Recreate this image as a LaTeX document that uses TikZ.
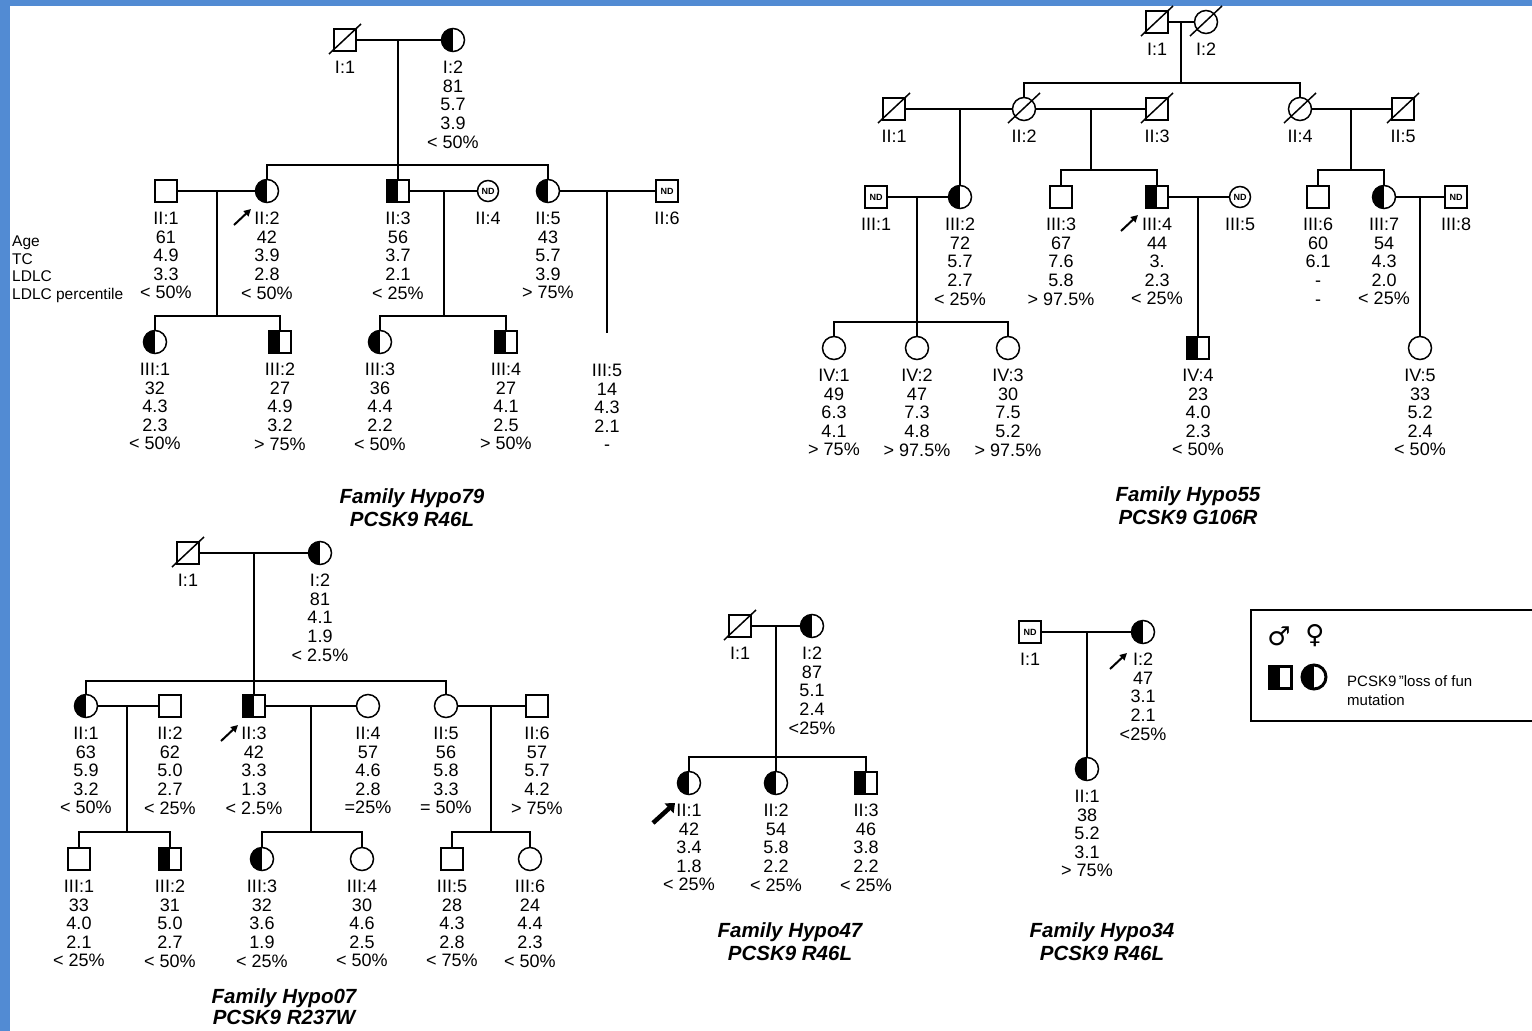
\documentclass[tikz,border=0pt]{standalone}
\usepackage{fontspec}
\setmainfont{Liberation Sans}
\newfontfamily\dejavu{DejaVu Sans}
\usetikzlibrary{arrows.meta}
\definecolor{bluebg}{RGB}{82,139,211}
\newcommand\deadmark[1]{\draw[ln] ([shift={(-16pt,-14pt)}]#1.center) -- ([shift={(16pt,16pt)}]#1.center);}
\newcommand\plab[2]{\node[info] (#1L) at ([yshift=-21pt]#1.center) {#2};}
\begin{document}
\begin{tikzpicture}[x=1pt,y=-1pt,
  ln/.style={line width=1.5pt},
  sym/.style={draw, line width=1.5pt, inner sep=0pt, outer sep=0pt},
  ma/.style={sym, rectangle, minimum size=22pt},
  fe/.style={sym, circle, minimum size=23pt},
  half/.style={path picture={\fill[black] (path picture bounding box.south west) rectangle (path picture bounding box.north);}},
  nd/.style={font=\fontsize{9}{9}\selectfont\bfseries},
  ndc/.style={fe, minimum size=21pt, nd},
  nds/.style={ma, nd},
  info/.style={font=\fontsize{18}{18.6}\selectfont, align=center, inner sep=0pt, anchor=north},
  ttl/.style={font=\fontsize{20.5}{23}\selectfont\bfseries\itshape, align=center, inner sep=0pt, anchor=north},
  side/.style={font=\fontsize{15.5}{17.4}\selectfont, align=left, inner sep=0pt, anchor=north west},
  prob/.style={line width=2pt, -{Triangle[length=7pt,width=7pt]}},
]
\useasboundingbox (0,0) rectangle (1532,1031);
\fill[bluebg] (0,0) rectangle (1532,1031);
\fill[white] (10,6) rectangle (1532,1031);

%% ================= Family Hypo79 =================
\node[ma] (A-I1) at (345,40) {}; \deadmark{A-I1}
\node[fe,half] (A-I2) at (453,40) {};
\coordinate (A-m1) at (398,40);
\coordinate (A-s1) at (398,165);
\node[ma] (A-II1) at (166,191) {};
\node[fe,half] (A-II2) at (267,191) {};
\node[ma,half] (A-II3) at (398,191) {};
\node[ndc] (A-II4) at (488,191) {ND};
\node[fe,half] (A-II5) at (548,191) {};
\node[nds] (A-II6) at (667,191) {ND};
\node[fe,half] (A-III1) at (155,342) {};
\node[ma,half] (A-III2) at (280,342) {};
\node[fe,half] (A-III3) at (380,342) {};
\node[ma,half] (A-III4) at (506,342) {};
\coordinate (A-III5) at (607,333);
\coordinate (A-m2) at (217,191); \coordinate (A-s2) at (217,316);
\coordinate (A-m3) at (444,191); \coordinate (A-s3) at (444,316);
\coordinate (A-m4) at (607,191);
\draw[ln] (A-I1) -- (A-I2);
\draw[ln] (A-m1) -- (A-II3);
\draw[ln] (A-II2) |- (A-s1) -| (A-II5);
\draw[ln] (A-II1) -- (A-II2);
\draw[ln] (A-II3) -- (A-II4);
\draw[ln] (A-II5) -- (A-II6);
\draw[ln] (A-m2) -- (A-s2);
\draw[ln] (A-III1) |- (A-s2) -| (A-III2);
\draw[ln] (A-m3) -- (A-s3);
\draw[ln] (A-III3) |- (A-s3) -| (A-III4);
\draw[ln] (A-m4) -- (A-III5);
\plab{A-I1}{I:1}
\plab{A-I2}{I:2\\81\\5.7\\3.9\\< 50\%}
\plab{A-II1}{II:1\\61\\4.9\\3.3\\< 50\%}
\plab{A-II2}{II:2\\42\\3.9\\2.8\\< 50\%}
\plab{A-II3}{II:3\\56\\3.7\\2.1\\< 25\%}
\plab{A-II4}{II:4}
\plab{A-II5}{II:5\\43\\5.7\\3.9\\> 75\%}
\plab{A-II6}{II:6}
\plab{A-III1}{III:1\\32\\4.3\\2.3\\< 50\%}
\plab{A-III2}{III:2\\27\\4.9\\3.2\\> 75\%}
\plab{A-III3}{III:3\\36\\4.4\\2.2\\< 50\%}
\plab{A-III4}{III:4\\27\\4.1\\2.5\\> 50\%}
\node[info] (A-III5L) at (607,364) {III:5\\14\\4.3\\2.1\\-};
\coordinate (A-a1) at (234,225); \coordinate (A-a2) at (251,209);
\draw[prob] (A-a1) -- (A-a2);
\node[side] (A-key) at (12,236) {Age\\TC\\LDLC\\LDLC percentile};
\node[ttl] (A-t) at (412,488) {Family Hypo79\\PCSK9 R46L};

%% ================= Family Hypo55 =================
\node[ma] (B-I1) at (1157,22) {}; \deadmark{B-I1}
\node[fe] (B-I2) at (1206,22) {}; \deadmark{B-I2}
\coordinate (B-m1) at (1181,22); \coordinate (B-s1) at (1181,83);
\node[ma] (B-II1) at (894,109) {}; \deadmark{B-II1}
\node[fe] (B-II2) at (1024,109) {}; \deadmark{B-II2}
\node[ma] (B-II3) at (1157,109) {}; \deadmark{B-II3}
\node[fe] (B-II4) at (1300,109) {}; \deadmark{B-II4}
\node[ma] (B-II5) at (1403,109) {}; \deadmark{B-II5}
\node[nds] (B-III1) at (876,197) {ND};
\node[fe,half] (B-III2) at (960,197) {};
\node[ma] (B-III3) at (1061,197) {};
\node[ma,half] (B-III4) at (1157,197) {};
\node[ndc] (B-III5) at (1240,197) {ND};
\node[ma] (B-III6) at (1318,197) {};
\node[fe,half] (B-III7) at (1384,197) {};
\node[nds] (B-III8) at (1456,197) {ND};
\node[fe] (B-IV1) at (834,348) {};
\node[fe] (B-IV2) at (917,348) {};
\node[fe] (B-IV3) at (1008,348) {};
\node[ma,half] (B-IV4) at (1198,348) {};
\node[fe] (B-IV5) at (1420,348) {};
\coordinate (B-m2) at (960,109);
\coordinate (B-m3) at (1091,109); \coordinate (B-s3) at (1091,170);
\coordinate (B-m4) at (1351,109); \coordinate (B-s4) at (1351,170);
\coordinate (B-m5) at (917,197); \coordinate (B-s5) at (917,322);
\coordinate (B-m6) at (1198,197);
\coordinate (B-m7) at (1420,197);
\draw[ln] (B-I1) -- (B-I2);
\draw[ln] (B-m1) -- (B-s1);
\draw[ln] (B-II2) |- (B-s1) -| (B-II4);
\draw[ln] (B-II1) -- (B-II2);
\draw[ln] (B-II2) -- (B-II3);
\draw[ln] (B-II4) -- (B-II5);
\draw[ln] (B-m2) -- (B-III2);
\draw[ln] (B-m3) -- (B-s3);
\draw[ln] (B-III3) |- (B-s3) -| (B-III4);
\draw[ln] (B-m4) -- (B-s4);
\draw[ln] (B-III6) |- (B-s4) -| (B-III7);
\draw[ln] (B-III1) -- (B-III2);
\draw[ln] (B-III4) -- (B-III5);
\draw[ln] (B-III7) -- (B-III8);
\draw[ln] (B-m5) -- (B-IV2);
\draw[ln] (B-IV1) |- (B-s5) -| (B-IV3);
\draw[ln] (B-m6) -- (B-IV4);
\draw[ln] (B-m7) -- (B-IV5);
\plab{B-I1}{I:1}
\plab{B-I2}{I:2}
\plab{B-II1}{II:1}
\plab{B-II2}{II:2}
\plab{B-II3}{II:3}
\plab{B-II4}{II:4}
\plab{B-II5}{II:5}
\plab{B-III1}{III:1}
\plab{B-III2}{III:2\\72\\5.7\\2.7\\< 25\%}
\plab{B-III3}{III:3\\67\\7.6\\5.8\\> 97.5\%}
\plab{B-III4}{III:4\\44\\3.\\2.3\\< 25\%}
\plab{B-III5}{III:5}
\plab{B-III6}{III:6\\60\\6.1\\-\\-}
\plab{B-III7}{III:7\\54\\4.3\\2.0\\< 25\%}
\plab{B-III8}{III:8}
\plab{B-IV1}{IV:1\\49\\6.3\\4.1\\> 75\%}
\plab{B-IV2}{IV:2\\47\\7.3\\4.8\\> 97.5\%}
\plab{B-IV3}{IV:3\\30\\7.5\\5.2\\> 97.5\%}
\plab{B-IV4}{IV:4\\23\\4.0\\2.3\\< 50\%}
\plab{B-IV5}{IV:5\\33\\5.2\\2.4\\< 50\%}
\coordinate (B-a1) at (1121,231); \coordinate (B-a2) at (1138,215);
\draw[prob] (B-a1) -- (B-a2);
\node[ttl] (B-t) at (1188,486) {Family Hypo55\\PCSK9 G106R};

%% ================= Family Hypo07 =================
\node[ma] (C-I1) at (188,553) {}; \deadmark{C-I1}
\node[fe,half] (C-I2) at (320,553) {};
\coordinate (C-m1) at (254,553); \coordinate (C-s1) at (254,681);
\node[fe,half] (C-II1) at (86,706) {};
\node[ma] (C-II2) at (170,706) {};
\node[ma,half] (C-II3) at (254,706) {};
\node[fe] (C-II4) at (368,706) {};
\node[fe] (C-II5) at (446,706) {};
\node[ma] (C-II6) at (537,706) {};
\node[ma] (C-III1) at (79,859) {};
\node[ma,half] (C-III2) at (170,859) {};
\node[fe,half] (C-III3) at (262,859) {};
\node[fe] (C-III4) at (362,859) {};
\node[ma] (C-III5) at (452,859) {};
\node[fe] (C-III6) at (530,859) {};
\coordinate (C-m2) at (127,706); \coordinate (C-s2) at (127,832);
\coordinate (C-m3) at (311,706); \coordinate (C-s3) at (311,832);
\coordinate (C-m4) at (491,706); \coordinate (C-s4) at (491,832);
\draw[ln] (C-I1) -- (C-I2);
\draw[ln] (C-m1) -- (C-II3);
\draw[ln] (C-II1) |- (C-s1) -| (C-II5);
\draw[ln] (C-II1) -- (C-II2);
\draw[ln] (C-II3) -- (C-II4);
\draw[ln] (C-II5) -- (C-II6);
\draw[ln] (C-m2) -- (C-s2);
\draw[ln] (C-III1) |- (C-s2) -| (C-III2);
\draw[ln] (C-m3) -- (C-s3);
\draw[ln] (C-III3) |- (C-s3) -| (C-III4);
\draw[ln] (C-m4) -- (C-s4);
\draw[ln] (C-III5) |- (C-s4) -| (C-III6);
\plab{C-I1}{I:1}
\plab{C-I2}{I:2\\81\\4.1\\1.9\\< 2.5\%}
\plab{C-II1}{II:1\\63\\5.9\\3.2\\< 50\%}
\plab{C-II2}{II:2\\62\\5.0\\2.7\\< 25\%}
\plab{C-II3}{II:3\\42\\3.3\\1.3\\< 2.5\%}
\plab{C-II4}{II:4\\57\\4.6\\2.8\\=25\%}
\plab{C-II5}{II:5\\56\\5.8\\3.3\\= 50\%}
\plab{C-II6}{II:6\\57\\5.7\\4.2\\> 75\%}
\plab{C-III1}{III:1\\33\\4.0\\2.1\\< 25\%}
\plab{C-III2}{III:2\\31\\5.0\\2.7\\< 50\%}
\plab{C-III3}{III:3\\32\\3.6\\1.9\\< 25\%}
\plab{C-III4}{III:4\\30\\4.6\\2.5\\< 50\%}
\plab{C-III5}{III:5\\28\\4.3\\2.8\\< 75\%}
\plab{C-III6}{III:6\\24\\4.4\\2.3\\< 50\%}
\coordinate (C-a1) at (221,741); \coordinate (C-a2) at (238,725);
\draw[prob] (C-a1) -- (C-a2);
\node[ttl, font=\fontsize{20.5}{21.5}\selectfont\bfseries\itshape] (C-t) at (284,988) {Family Hypo07\\PCSK9 R237W};

%% ================= Family Hypo47 =================
\node[ma] (D-I1) at (740,626) {}; \deadmark{D-I1}
\node[fe,half] (D-I2) at (812,626) {};
\coordinate (D-m1) at (776,626); \coordinate (D-s1) at (776,757);
\node[fe,half] (D-II1) at (689,783) {};
\node[fe,half] (D-II2) at (776,783) {};
\node[ma,half] (D-II3) at (866,783) {};
\draw[ln] (D-I1) -- (D-I2);
\draw[ln] (D-m1) -- (D-II2);
\draw[ln] (D-II1) |- (D-s1) -| (D-II3);
\plab{D-I1}{I:1}
\plab{D-I2}{I:2\\87\\5.1\\2.4\\<25\%}
\plab{D-II1}{II:1\\42\\3.4\\1.8\\< 25\%}
\plab{D-II2}{II:2\\54\\5.8\\2.2\\< 25\%}
\plab{D-II3}{II:3\\46\\3.8\\2.2\\< 25\%}
\coordinate (D-a1) at (653,823); \coordinate (D-a2) at (675,803);
\draw[line width=4.5pt, -{Triangle[length=8pt,width=13pt]}] (D-a1) -- (D-a2);
\node[ttl] (D-t) at (790,922) {Family Hypo47\\PCSK9 R46L};

%% ================= Family Hypo34 =================
\node[nds] (E-I1) at (1030,632) {ND};
\node[fe,half] (E-I2) at (1143,632) {};
\coordinate (E-m1) at (1087,632);
\node[fe,half] (E-II1) at (1087,769) {};
\draw[ln] (E-I1) -- (E-I2);
\draw[ln] (E-m1) -- (E-II1);
\plab{E-I1}{I:1}
\plab{E-I2}{I:2\\47\\3.1\\2.1\\<25\%}
\plab{E-II1}{II:1\\38\\5.2\\3.1\\> 75\%}
\coordinate (E-a1) at (1110,669); \coordinate (E-a2) at (1127,653);
\draw[prob] (E-a1) -- (E-a2);
\node[ttl] (E-t) at (1102,922) {Family Hypo34\\PCSK9 R46L};

%% ================= Legend =================
\draw[line width=1.5pt] (1251,610) rectangle (1545,721);
\node[font=\dejavu\fontsize{26}{26}\selectfont, inner sep=0pt] (G-m) at (1279,636) {♂};
\node[font=\dejavu\fontsize{26}{26}\selectfont, inner sep=0pt] (G-f) at (1315,636) {♀};
\node[ma, half, line width=3pt] (G-sq) at (1280,677) {};
\node[fe, half, line width=3pt, minimum size=24pt] (G-ci) at (1314,677) {};
\node[font=\fontsize{15}{19}\selectfont, align=left, inner sep=0pt, anchor=north west] (G-t) at (1347,675) {PCSK9\,"loss of fun\\mutation};
\end{tikzpicture}
\end{document}
